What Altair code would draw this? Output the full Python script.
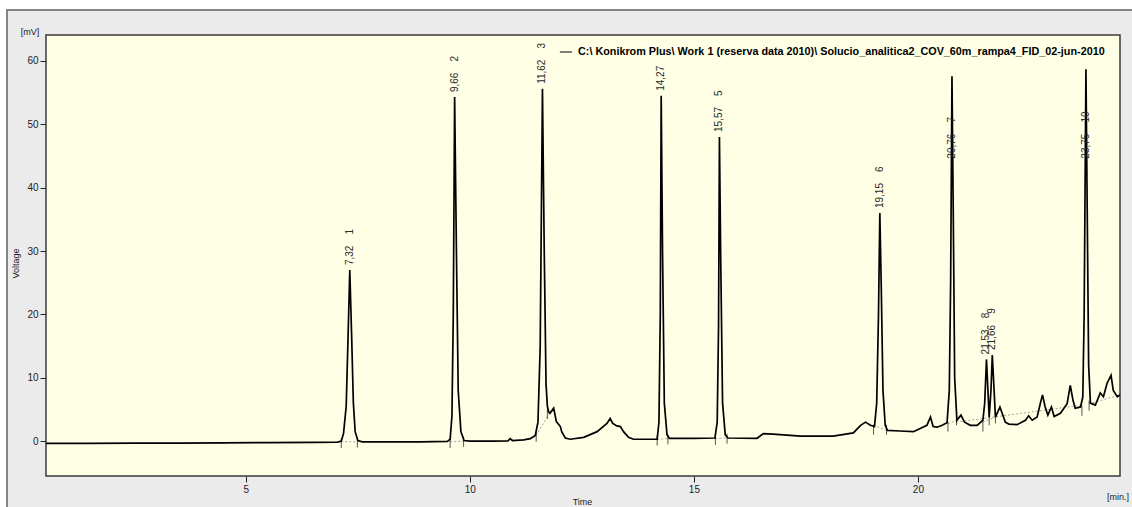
import altair as alt
import pandas as pd

# ---- data ----
trace_t = [
    0.54, 1.5, 2.5, 3.5, 4.5, 5.5, 6.5, 7.05,
    7.13, 7.18, 7.24, 7.28, 7.32, 7.36, 7.40, 7.44, 7.50, 7.60,
    8.2, 8.9, 9.50,
    9.56, 9.60, 9.63, 9.66, 9.70, 9.74, 9.80, 9.87, 10.0,
    10.5, 10.85, 10.9, 10.95, 11.2, 11.35, 11.46,
    11.52, 11.57, 11.62, 11.66, 11.70, 11.73, 11.76, 11.79, 11.87, 11.93, 12.02, 12.05,
    12.13, 12.24, 12.54, 12.84, 13.06, 13.13, 13.19, 13.28, 13.36, 13.43, 13.54, 13.65, 14.18,
    14.22, 14.25, 14.27, 14.30, 14.34, 14.40, 14.45, 15.0, 15.47,
    15.52, 15.55, 15.57, 15.60, 15.64, 15.70, 15.76, 16.41, 16.55, 16.77, 17.38, 18.11,
    18.56, 18.72, 18.83, 18.94, 19.03,
    19.08, 19.12, 19.15, 19.18, 19.22, 19.27, 19.32, 19.6, 19.9, 20.20, 20.28, 20.34,
    20.43, 20.54, 20.65,
    20.70, 20.73, 20.76, 20.79, 20.82, 20.87, 20.96, 21.04, 21.17, 21.32, 21.45,
    21.49, 21.53, 21.59, 21.63, 21.66, 21.73, 21.83, 21.88, 21.95, 22.03, 22.21, 22.40,
    22.47, 22.55, 22.66, 22.73, 22.78, 22.84, 22.90, 22.98, 23.04, 23.18, 23.33, 23.40,
    23.46, 23.51, 23.63,
    23.68, 23.71, 23.75, 23.78, 23.81, 23.85, 23.96, 24.07, 24.14, 24.22, 24.31, 24.36,
    24.45, 24.51,
]
trace_mv = [
    -0.35, -0.35, -0.32, -0.3, -0.27, -0.22, -0.2, -0.15,
    0.0, 1.2, 5.5, 16.0, 27.0, 17.0, 6.0, 1.5, 0.1, -0.1,
    -0.1, -0.1, -0.05,
    0.3, 4.0, 20.0, 54.3, 30.0, 8.0, 1.5, 0.1, 0.0,
    0.0, 0.05, 0.4, 0.1, 0.2, 0.4, 0.9,
    3.0, 15.0, 55.6, 30.0, 9.0, 5.5, 4.6, 4.4, 5.2, 3.1, 2.3, 1.5,
    0.5, 0.3, 0.6, 1.5, 2.8, 3.6, 2.8, 2.4, 2.3, 1.5, 0.6, 0.3, 0.3,
    3.0, 20.0, 54.5, 30.0, 6.0, 1.0, 0.45, 0.45, 0.5,
    3.0, 18.0, 48.0, 28.0, 6.0, 1.0, 0.5, 0.45, 1.2, 1.1, 0.8, 0.8,
    1.3, 2.5, 3.0, 2.5, 2.3,
    6.0, 20.0, 36.0, 25.0, 8.0, 2.5, 1.7, 1.6, 1.5, 2.5, 3.8, 2.3,
    2.2, 2.5, 2.9,
    8.0, 25.0, 57.6, 35.0, 10.0, 3.3, 4.1, 3.0, 2.5, 2.5, 3.3,
    6.0, 12.9, 3.8, 8.0, 13.6, 3.8, 5.4, 4.4, 3.0, 2.7, 2.6, 3.3,
    4.0, 3.3, 3.8, 5.9, 7.3, 5.4, 4.1, 5.4, 3.9, 4.4, 5.9, 8.8,
    6.5, 5.2, 5.4,
    7.0, 20.0, 58.7, 35.0, 12.0, 6.0, 5.7, 7.6, 7.0, 9.1, 10.4, 8.0,
    7.0, 7.3,
]
assert len(trace_t) == len(trace_mv)

series_name = "C:\\ Konikrom Plus\\ Work 1 (reserva data 2010)\\ Solucio_analitica2_COV_60m_rampa4_FID_02-jun-2010"

# peaks: retention time, apex height, number
peak_time = [7.32, 9.66, 11.62, 14.27, 15.57, 19.15, 20.76, 21.53, 21.66, 23.75]
peak_mv = [27.0, 54.3, 55.6, 54.5, 48.0, 36.0, 57.6, 12.9, 13.6, 58.7]
peak_no = ["1", "2", "3", "", "5", "6", "7", "8", "9", "10"]

# integration markers (start/end of peaks)
marker_t = [7.13, 7.49, 9.56, 9.86, 11.48, 11.73, 14.18, 14.42, 15.48, 15.74,
            19.01, 19.30, 20.67, 20.86, 21.45, 21.59, 21.73, 23.66, 23.82]
marker_mv = [-0.1, 0.0, -0.1, 0.1, 0.9, 4.5, 0.3, 0.5, 0.4, 0.6,
             2.0, 2.0, 2.5, 3.5, 2.5, 3.5, 3.8, 5.0, 5.8]

# integration baselines
base_t1 = [7.13, 9.56, 11.48, 14.18, 15.48, 19.01, 20.67, 21.45, 20.86, 23.82]
base_v1 = [-0.1, -0.1, 0.9, 0.3, 0.4, 2.5, 2.7, 3.0, 3.0, 5.9]
base_t2 = [7.49, 9.86, 11.83, 14.42, 15.74, 19.30, 20.86, 21.73, 23.66, 24.51]
base_v2 = [-0.1, 0.0, 5.0, 0.4, 0.5, 1.7, 3.3, 3.8, 5.7, 7.3]

x_ticks = [5, 10, 15, 20]
y_ticks = [0, 10, 20, 30, 40, 50, 60]
x_domain = [0.54, 24.51]
y_domain = [-5.5, 64.1]

W, H = 1074, 441
FONT = "Liberation Sans"

# ---- tables ----
trace = pd.DataFrame({"t": trace_t, "mv": trace_mv, "series": series_name})


def label_text(t, n):
    s = f"{t:.2f}".replace(".", ",")
    return s + ("\u00a0" * 4 + n if n else "")


peaks = pd.DataFrame({
    "t": peak_time,
    "mv": peak_mv,
    "label": [label_text(t, n) for t, n in zip(peak_time, peak_no)],
})
peaks["anchor"] = [v if v < 56.5 else 43.8 for v in peak_mv]

markers = pd.DataFrame({"t": marker_t, "mv": marker_mv})
markers["hi"] = markers["mv"] + 0.6
markers["lo"] = markers["mv"] - 1.0

bases = pd.DataFrame({"t1": base_t1, "v1": base_v1, "t2": base_t2, "v2": base_v2})

xs = alt.Scale(domain=x_domain, nice=False, zero=False)
ys = alt.Scale(domain=y_domain, nice=False, zero=False)

one = pd.DataFrame({"k": [0]})

# white margin strips around the grey panel, and the panel's border
top_strip = alt.Chart(one).mark_rect(fill="#ffffff").encode(
    x=alt.value(-60), x2=alt.value(W + 40), y=alt.value(-50), y2=alt.value(-26)
)
left_strip = alt.Chart(one).mark_rect(fill="#ffffff").encode(
    x=alt.value(-60), x2=alt.value(-40), y=alt.value(-50), y2=alt.value(H + 50)
)
top_border = alt.Chart(one).mark_rule(color="#858585", strokeWidth=2).encode(
    x=alt.value(-40), x2=alt.value(W + 40), y=alt.value(-25)
)
left_border = alt.Chart(one).mark_rule(color="#858585", strokeWidth=2).encode(
    x=alt.value(-39), y=alt.value(-26), y2=alt.value(H + 50)
)
plotbg = alt.Chart(one).mark_rect(fill="#ffffe6", stroke="#3a3a3a", strokeWidth=1.5).encode(
    x=alt.value(0), x2=alt.value(W), y=alt.value(0), y2=alt.value(H)
)

base_layer = alt.Chart(bases).mark_rule(color="#8c8c8c", strokeWidth=0.8, strokeDash=[2, 2]).encode(
    x=alt.X("t1:Q", scale=xs), x2="t2:Q",
    y=alt.Y("v1:Q", scale=ys), y2="v2:Q",
)

marker_layer = alt.Chart(markers).mark_rule(color="#555555", strokeWidth=1).encode(
    x=alt.X("t:Q", scale=xs),
    y=alt.Y("hi:Q", scale=ys), y2="lo:Q",
)

line = alt.Chart(trace).mark_line(strokeWidth=1.7, interpolate="linear").encode(
    x=alt.X("t:Q", scale=xs,
            axis=alt.Axis(values=x_ticks, title="Time", titleX=536, titleY=25,
                          titleBaseline="middle", titleAlign="center")),
    y=alt.Y("mv:Q", scale=ys,
            axis=alt.Axis(values=y_ticks, title="Voltage", titleX=-31, titleY=228,
                          titleAngle=270, titleAlign="center", titleBaseline="middle")),
    color=alt.Color("series:N", scale=alt.Scale(range=["#000000"]),
                    legend=alt.Legend(title=None, orient="none", legendX=513, legendY=10,
                                      symbolType="stroke", symbolSize=150,
                                      symbolStrokeWidth=1, symbolStrokeColor="#333333",
                                      labelFont=FONT, labelFontWeight="bold",
                                      labelFontSize=10.8, labelColor="#000000",
                                      labelLimit=0, padding=0, labelOffset=5)),
    order="t:Q",
)

labels = alt.Chart(peaks).mark_text(
    angle=270, align="left", baseline="middle", dx=5,
    font=FONT, fontSize=10, color="#2a2a2a",
).encode(
    x=alt.X("t:Q", scale=xs),
    y=alt.Y("anchor:Q", scale=ys),
    text="label:N",
)

corner = pd.DataFrame({"txt": ["[mV]"]})
mv_unit = alt.Chart(corner).mark_text(font=FONT, fontSize=9, color="#222222",
                                      align="center", baseline="middle").encode(
    x=alt.value(-16), y=alt.value(-3), text="txt:N")
corner2 = pd.DataFrame({"txt": ["[min.]"]})
min_unit = alt.Chart(corner2).mark_text(font=FONT, fontSize=9, color="#222222",
                                        align="center", baseline="middle").encode(
    x=alt.value(1072), y=alt.value(21 + H), text="txt:N")

chart = alt.layer(
    top_strip, left_strip, top_border, left_border, plotbg,
    base_layer, marker_layer, line, labels, mv_unit, min_unit,
).properties(
    width=W, height=H,
    autosize=alt.AutoSizeParams(type="none"),
    padding={"left": 46, "top": 35, "right": 12, "bottom": 31},
    background="#ebebeb",
).configure_view(
    stroke=None, fill=None,
).configure_axis(
    domain=False, grid=False, tickColor="#222222", tickSize=6, tickWidth=1,
    labelFont=FONT, labelFontSize=10, labelColor="#222222", labelPadding=2,
    titleFont=FONT, titleFontSize=9, titleFontWeight="normal", titleColor="#222222",
)

chart.save("out.html", embed_options={"renderer": "svg", "actions": False})
